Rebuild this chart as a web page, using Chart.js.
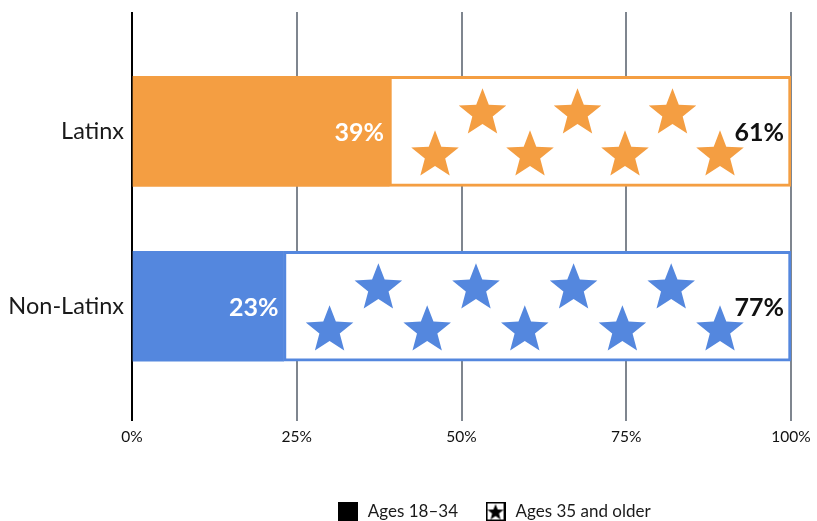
<!DOCTYPE html>
<html><head><meta charset="utf-8">
<script src="https://cdn.jsdelivr.net/npm/chart.js@4"></script>
<style>html,body{margin:0;padding:0;background:#fff}#wrap{width:817px;height:521px;position:relative}</style>
</head><body><div id="wrap"><canvas id="c"></canvas></div>
<script>
const categories = ['Latinx', 'Non-Latinx'];
const seriesNames = ['Ages 18\u201334', 'Ages 35 and older'];
const young = [39, 23];
const older = [61, 77];
const xTicks = [0, 25, 50, 75, 100];
const barColors = ['#F49E42', '#5487DE'];

const FONT = 'Lato, "Noto Sans", sans-serif';

function starPath(ctx, cx, cy, R, r) {
  ctx.beginPath();
  for (let k = 0; k < 10; k++) {
    const rad = k % 2 === 0 ? R : r;
    const a = -Math.PI / 2 + k * Math.PI / 5;
    const px = cx + rad * Math.cos(a), py = cy + rad * Math.sin(a);
    if (k === 0) ctx.moveTo(px, py); else ctx.lineTo(px, py);
  }
  ctx.closePath();
}

function makeSquare() {
  const c = document.createElement('canvas');
  c.width = 20; c.height = 20;
  const g = c.getContext('2d');
  g.fillStyle = '#000'; g.fillRect(0, 0, 20, 20);
  return c;
}
function makeStarBox() {
  const c = document.createElement('canvas');
  c.width = 20; c.height = 20;
  const g = c.getContext('2d');
  g.fillStyle = '#fff'; g.fillRect(0, 0, 20, 20);
  g.strokeStyle = '#000'; g.lineWidth = 2; g.strokeRect(1, 1, 18, 18);
  g.fillStyle = '#000'; starPath(g, 10, 11, 8.5, 3.6); g.fill();
  return c;
}
const legendIcons = [makeSquare(), makeStarBox()];

const decoPlugin = {
  id: 'deco',
  afterLayout(chart) {
    const lg = chart.legend;
    if (lg) { lg.left += 98; lg.right += 98; lg.top += 9; lg.bottom += 9; }
  },
  afterDatasetsDraw(chart) {
    const ctx = chart.ctx;
    const m0 = chart.getDatasetMeta(0).data;
    const m1 = chart.getDatasetMeta(1).data;
    ctx.save();
    categories.forEach((cat, i) => {
      const b1 = m1[i];
      const top = b1.y - b1.height / 2;
      const x0 = b1.base + 46, x1 = b1.x - 71;
      const n = Math.round((x1 - x0) / 48) + 1;
      const step = (x1 - x0) / (n - 1);
      ctx.fillStyle = barColors[i];
      for (let k = 0; k < n; k++) {
        const sy = top + (k % 2 === 0 ? 79 : 37);
        starPath(ctx, x0 + k * step, sy, 25, 10.7);
        ctx.fill();
      }
    });
    ctx.font = 'bold 25px ' + FONT;
    ctx.textAlign = 'right';
    ctx.textBaseline = 'middle';
    categories.forEach((cat, i) => {
      const b0 = m0[i], b1 = m1[i];
      ctx.fillStyle = '#ffffff';
      ctx.fillText(young[i] + '%', b0.x - 5, b0.y + 2);
      ctx.fillStyle = '#111111';
      ctx.fillText(older[i] + '%', b1.x - 7, b1.y + 2);
    });
    ctx.restore();
  }
};

new Chart(document.getElementById('c'), {
  type: 'bar',
  data: {
    datasets: [
      {
        label: seriesNames[0],
        data: young.map((v, i) => ({ x: v, y: i })),
        backgroundColor: barColors,
        borderWidth: 0,
        barThickness: 110
      },
      {
        label: seriesNames[1],
        data: older.map((v, i) => ({ x: v, y: i })),
        backgroundColor: '#ffffff',
        borderColor: barColors,
        borderWidth: 3,
        borderSkipped: false,
        barThickness: 110
      }
    ]
  },
  options: {
    indexAxis: 'y',
    responsive: true,
    maintainAspectRatio: false,
    animation: false,
    layout: { padding: { top: 12, right: 26, left: 0, bottom: 0 } },
    scales: {
      x: {
        type: 'linear', stacked: true, min: 0, max: 100,
        afterBuildTicks: s => { s.ticks = xTicks.map(v => ({ value: v })); },
        afterFit: s => { s.height = 47; s.paddingLeft = 0; s.paddingRight = 0; },
        ticks: { callback: v => v + '%', font: { family: FONT, size: 15.5 }, color: '#111', padding: 7 },
        grid: {
          color: c => (c.tick && c.tick.value === 0) ? '#000000' : '#7f868f',
          lineWidth: 2, drawTicks: false
        },
        border: { display: false }
      },
      y: {
        type: 'linear', stacked: true, reverse: true, offset: false,
        min: -0.682, max: 1.656,
        afterBuildTicks: s => { s.ticks = categories.map((c, i) => ({ value: i })); },
        afterFit: s => { s.width = 132; s.paddingTop = 0; s.paddingBottom = 0; },
        ticks: { callback: v => categories[v], font: { family: FONT, size: 23.5 }, color: '#1a1a1a', padding: 8 },
        grid: { display: false, offset: false, drawTicks: false },
        border: { display: false }
      }
    },
    plugins: {
      tooltip: { enabled: false },
      legend: {
        position: 'bottom',
        labels: {
          usePointStyle: true,
          pointStyleWidth: 23,
          padding: 26,
          color: '#1a1a1a',
          font: { family: FONT, size: 17 },
          generateLabels: () => seriesNames.map((n, i) => ({
            text: n, pointStyle: legendIcons[i], fillStyle: '#000', strokeStyle: '#000',
            lineWidth: 0, hidden: false, datasetIndex: i, fontColor: '#1a1a1a'
          }))
        }
      }
    }
  },
  plugins: [decoPlugin]
});
</script>
</body></html>
